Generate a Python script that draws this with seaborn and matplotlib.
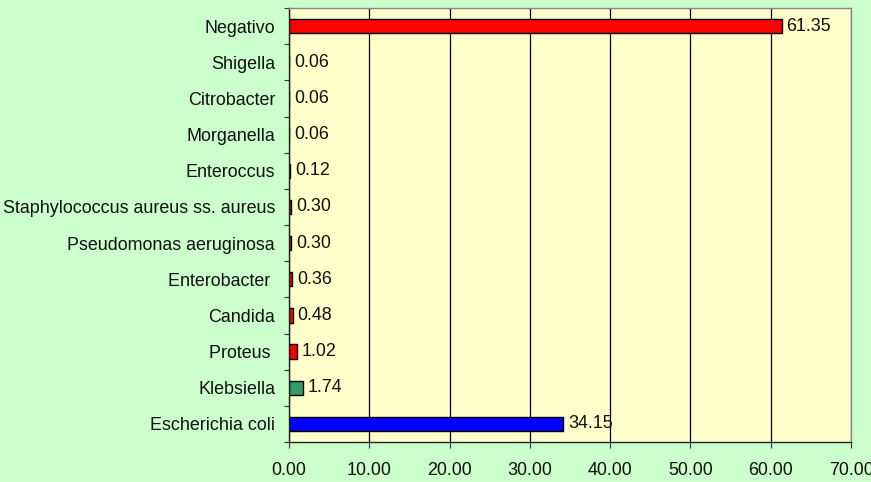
import matplotlib
matplotlib.use("Agg")
import matplotlib.pyplot as plt
from matplotlib.ticker import FixedLocator, FormatStrFormatter
import seaborn as sns
import numpy as np

# Organisms, top to bottom, and their percentages
organisms = [
    "Negativo", "Shigella", "Citrobacter", "Morganella", "Enteroccus",
    "Staphylococcus aureus ss. aureus", "Pseudomonas aeruginosa",
    "Enterobacter ", "Candida", "Proteus ", "Klebsiella", "Escherichia coli",
]
percent = [61.35, 0.06, 0.06, 0.06, 0.12, 0.30, 0.30, 0.36, 0.48, 1.02, 1.74, 34.15]
bar_colors = ["#FF0000"] * 10 + ["#339966", "#0000FF"]
x_ticks = [0, 10, 20, 30, 40, 50, 60, 70]

sns.set_theme(style="white")
plt.rcParams["font.family"] = ["Liberation Sans", "DejaVu Sans"]

FS = 12.9

fig = plt.figure(figsize=(8.71, 4.82), dpi=100, facecolor="#CCFFCC")
ax = fig.add_axes([289 / 871, 40 / 482, 562 / 871, 434 / 482])
ax.set_facecolor("#FFFFCC")

sns.barplot(x=percent, y=organisms, hue=organisms, palette=bar_colors,
            legend=False, width=0.4, edgecolor="black", linewidth=1,
            saturation=1, orient="h", ax=ax)

for cont in ax.containers:
    ax.bar_label(cont, fmt="%.2f", padding=3.5, fontsize=FS, color="#111111")

ax.set_xlim(0, 70)
ax.set_ylim(len(organisms) - 0.5, -0.5)
ax.xaxis.set_major_locator(FixedLocator(x_ticks))
ax.xaxis.set_major_formatter(FormatStrFormatter("%.2f"))
ax.grid(axis="x", color="black", linewidth=0.9)
ax.grid(axis="y", visible=False)
ax.set_axisbelow(True)

ax.tick_params(axis="x", which="major", direction="out", length=4.5, width=0.8,
               color="#333333", labelsize=FS, pad=10, bottom=True)
ax.tick_params(axis="y", which="major", length=0, labelsize=FS, pad=10)
ax.yaxis.set_minor_locator(FixedLocator(np.arange(-0.5, len(organisms), 1.0)))
ax.tick_params(axis="y", which="minor", direction="out", length=3.5, width=0.8,
               color="#333333", left=True)
for lab in ax.get_yticklabels() + ax.get_xticklabels():
    lab.set_color("#111111")

for side in ["top", "right"]:
    ax.spines[side].set_color("#888888")
    ax.spines[side].set_linewidth(1)
for side in ["left", "bottom"]:
    ax.spines[side].set_color("#222222")
    ax.spines[side].set_linewidth(1)

ax.set_xlabel("")
ax.set_ylabel("")

fig.savefig("out.png", dpi=100, facecolor=fig.get_facecolor())
